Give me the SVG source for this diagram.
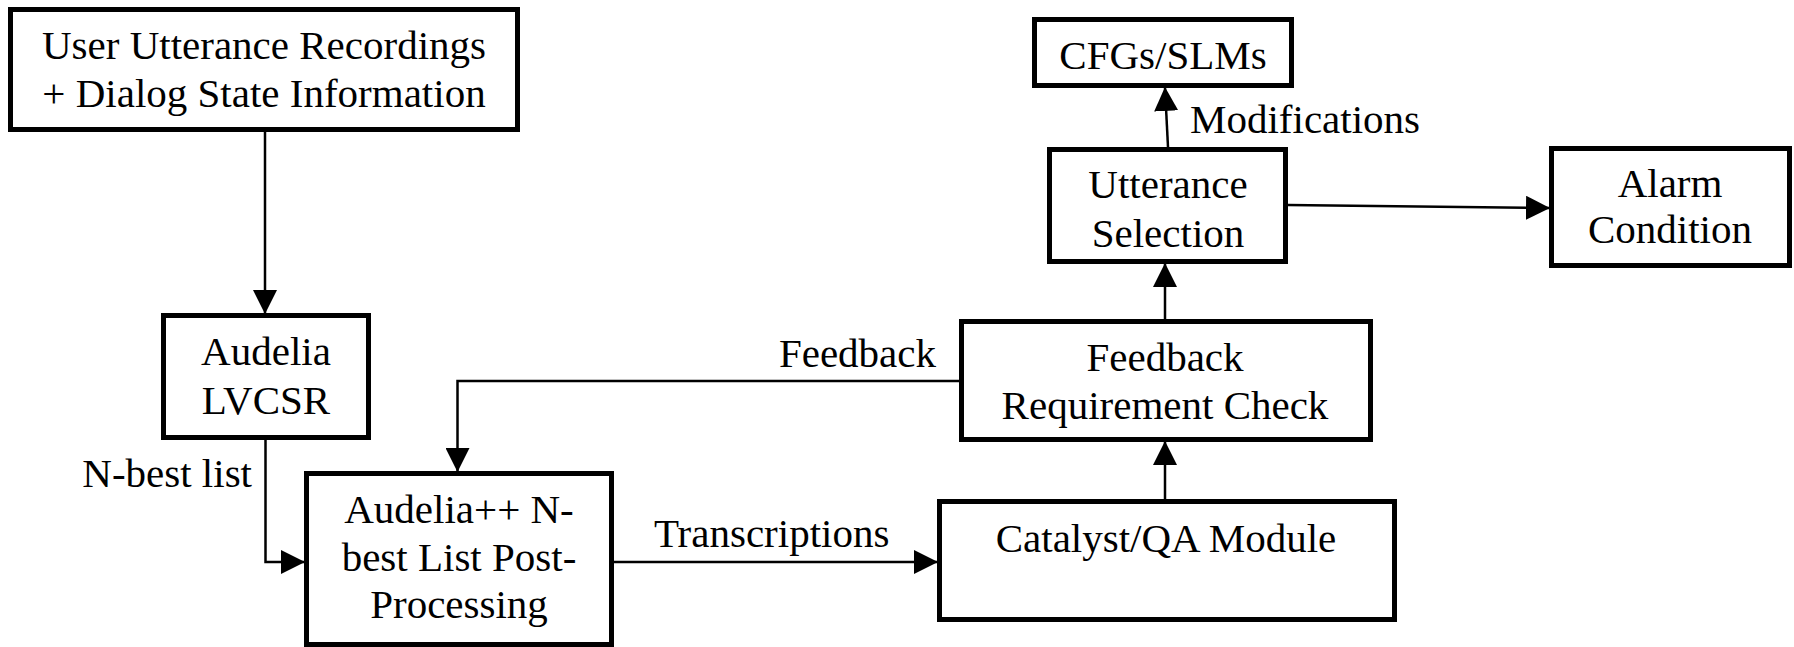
<svg xmlns="http://www.w3.org/2000/svg" width="1794" height="647" viewBox="0 0 1794 647">
<defs>
<style>
.box{fill:#fff;stroke:#000;stroke-width:5}
.t{font-family:"Liberation Serif","Times New Roman",serif;font-size:41px;fill:#000;text-anchor:middle}
.lbl{font-family:"Liberation Serif","Times New Roman",serif;font-size:41px;fill:#000}
.c{fill:none;stroke:#000;stroke-width:2.5;marker-end:url(#ah)}
</style>
<marker id="ah" markerUnits="userSpaceOnUse" markerWidth="24" markerHeight="24" refX="23" refY="12" orient="auto">
<path d="M0,0 L24,12 L0,24 Z" fill="#000"/>
</marker>
</defs>
<rect width="1794" height="647" fill="#fff"/>
<g id="connectors">
<path class="c" d="M265,132 V313"/>
<path class="c" d="M265.5,440 V562 H304"/>
<path class="c" d="M614,562 H937"/>
<path class="c" d="M1165,499 V442"/>
<path class="c" d="M959,381 H457.5 V471"/>
<path class="c" d="M1165,319 V264"/>
<path class="c" d="M1168,147 L1165,88"/>
<path class="c" d="M1288,205 L1549,208"/>
</g>
<g id="labels">
<text class="lbl" x="252" y="487" text-anchor="end">N-best list</text>
<text class="lbl" x="936" y="367" text-anchor="end">Feedback</text>
<text class="lbl" x="654" y="547">Transcriptions</text>
<text class="lbl" x="1190" y="133">Modifications</text>
</g>
<g id="node-user-utterance">
<rect class="box" x="10.5" y="9.5" width="507" height="120"/>
<text class="t" x="264" y="59">User Utterance Recordings</text>
<text class="t" x="264" y="107">+ Dialog State Information</text>
</g>
<g id="node-audelia-lvcsr">
<rect class="box" x="163.5" y="315.5" width="205" height="122"/>
<text class="t" x="266" y="365">Audelia</text>
<text class="t" x="266" y="414">LVCSR</text>
</g>
<g id="node-audelia-pp">
<rect class="box" x="306.5" y="473.5" width="305" height="171"/>
<text class="t" x="459" y="523">Audelia++ N-</text>
<text class="t" x="459" y="571">best List Post-</text>
<text class="t" x="459" y="618">Processing</text>
</g>
<g id="node-catalyst">
<rect class="box" x="939.5" y="501.5" width="455" height="118"/>
<text class="t" x="1166" y="552">Catalyst/QA Module</text>
</g>
<g id="node-feedback-check">
<rect class="box" x="961.5" y="321.5" width="409" height="118"/>
<text class="t" x="1165" y="371">Feedback</text>
<text class="t" x="1165" y="419">Requirement Check</text>
</g>
<g id="node-utterance-selection">
<rect class="box" x="1049.5" y="149.5" width="236" height="112"/>
<text class="t" x="1168" y="198">Utterance</text>
<text class="t" x="1168" y="247">Selection</text>
</g>
<g id="node-cfgs">
<rect class="box" x="1034.5" y="19.5" width="257" height="66"/>
<text class="t" x="1163" y="69">CFGs/SLMs</text>
</g>
<g id="node-alarm">
<rect class="box" x="1551.5" y="148.5" width="238" height="117"/>
<text class="t" x="1670" y="197">Alarm</text>
<text class="t" x="1670" y="243">Condition</text>
</g>
</svg>
